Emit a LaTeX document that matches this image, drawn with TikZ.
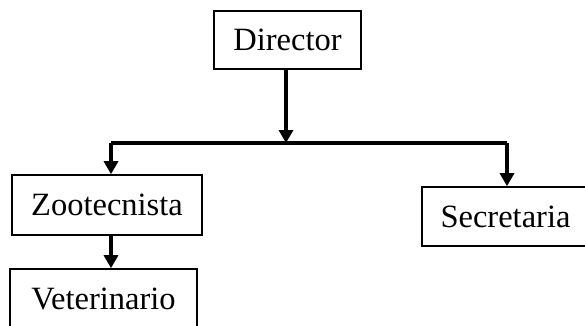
\documentclass[tikz,border=0pt]{standalone}
\usepackage{fontspec}
\setmainfont{Liberation Serif}
\usetikzlibrary{positioning,arrows.meta}
\tikzset{>={Triangle[length=13pt,width=14pt]}}
\tikzset{cargo/.style={draw,line width=1.6pt,inner sep=0pt,font=\fontsize{32.5}{38}\selectfont},
  flecha/.style={line width=3.4pt}}

\begin{document}
\begin{tikzpicture}[x=1pt,y=-1pt]
			\useasboundingbox (0,0) rectangle (585,325);
			\clip (0,0) rectangle (585,325);

			\node[cargo,minimum width=147pt,minimum height=58pt] (director) at (287.5,40) {Director};
			\node[cargo,minimum width=190pt,minimum height=60pt] (zoo) at (107,205) {Zootecnista};
			\node[cargo,minimum width=187pt,minimum height=60pt] (vet) at (103.5,299) {Veterinario};
			\node[cargo,minimum width=167pt,minimum height=59pt] (sec) at (505.5,216.5) {Secretaria};

			\coordinate (split) at (286,143);
			\coordinate (lft) at (111,143);
			\coordinate (rgt) at (507,143);

			\draw[->,flecha] (director.south -| split) -- (split);
			\draw[flecha] (lft) -- (rgt);
			\draw[->,flecha] (lft) -- (lft |- zoo.north);
			\draw[->,flecha] (rgt) -- (rgt |- sec.north);
			\draw[->,flecha] (zoo.south -| lft) -- (lft |- vet.north);
		\end{tikzpicture}
\end{document}
